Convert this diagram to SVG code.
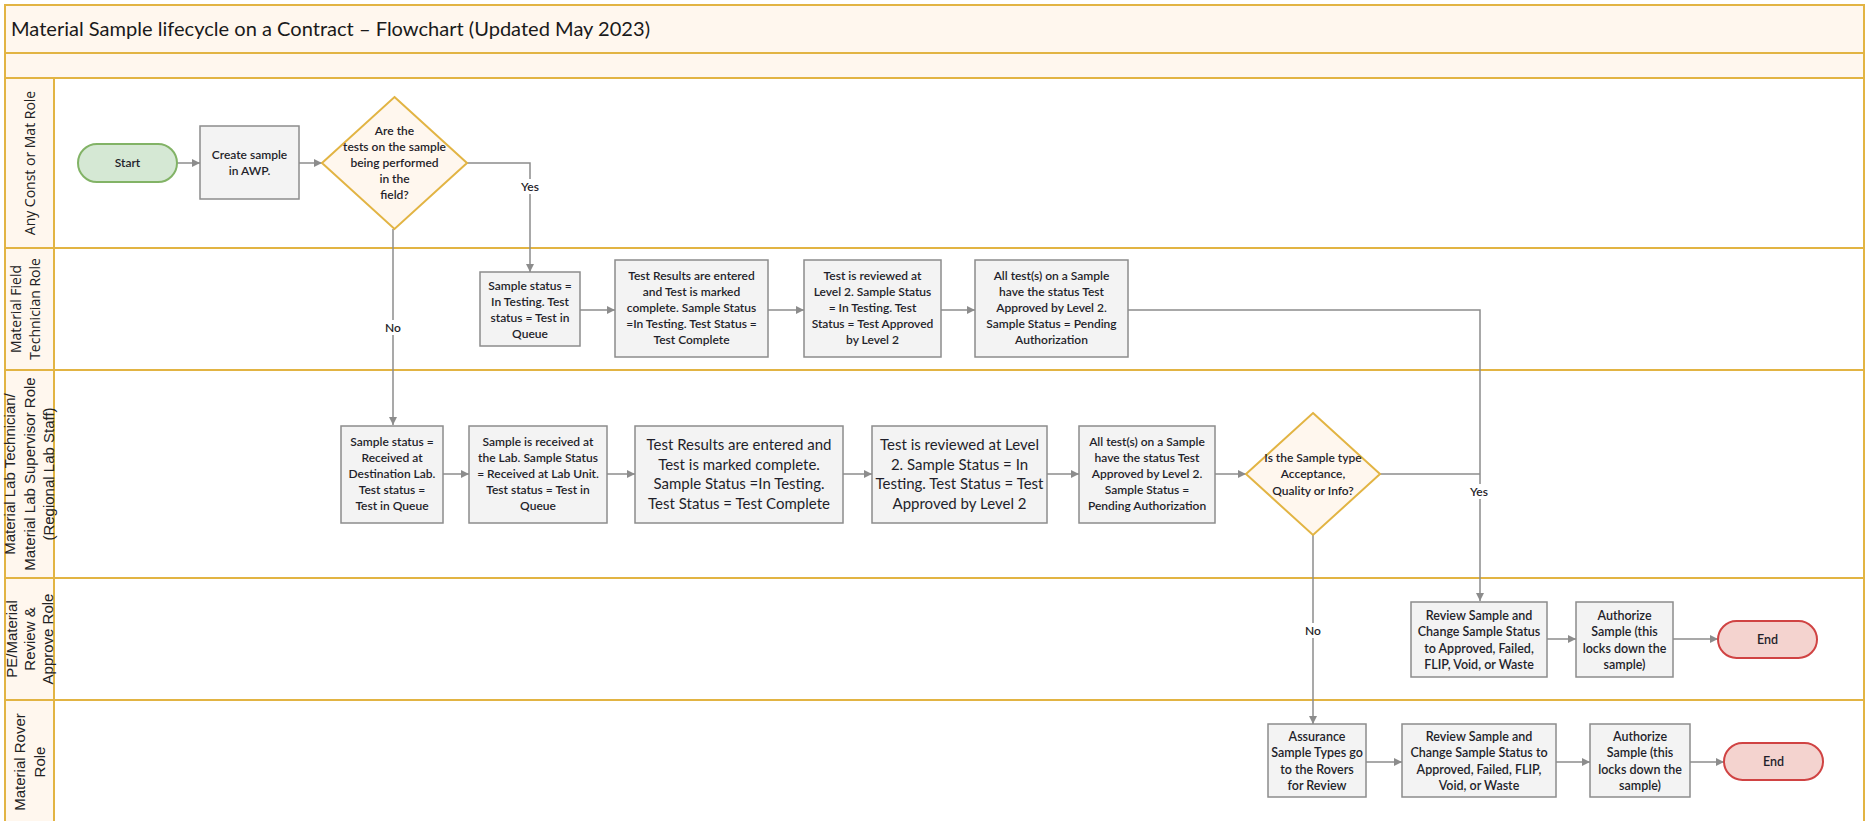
<svg xmlns="http://www.w3.org/2000/svg" width="1866" height="821" viewBox="0 0 1866 821">
<style>
.band{fill:#fff7ee;stroke:#e2b443;stroke-width:2}
.lane{fill:#ffffff;stroke:#e2b443;stroke-width:2}
.hdr{fill:#fff7ee;stroke:#e2b443;stroke-width:2}
.box{fill:#f3f3f3;stroke:#8c8c8c;stroke-width:1.5}
.dia{fill:#fff7ee;stroke:#e2b443;stroke-width:2}
.start{fill:#d5e8d4;stroke:#82b366;stroke-width:2}
.end{fill:#f4d3cf;stroke:#d04343;stroke-width:2}
.t{font-family:Lato,"Liberation Sans",sans-serif;font-size:12px;font-weight:600;fill:#1f1f2a;text-anchor:middle}
.tb{font-family:Lato,"Liberation Sans",sans-serif;font-size:15px;font-weight:400;fill:#1f1f2a;text-anchor:middle}
.tm{font-family:Lato,"Liberation Sans",sans-serif;font-size:12.5px;font-weight:600;fill:#1f1f2a;text-anchor:middle}
.lbl{font-family:Lato,"Liberation Sans",sans-serif;font-size:12px;font-weight:600;fill:#1f1f2a;text-anchor:middle}
.lo{font-family:"Open Sans","Noto Sans",sans-serif;font-size:14px;fill:#222;text-anchor:middle}
.la{font-family:"Liberation Sans",Arial,sans-serif;font-size:15px;fill:#222;text-anchor:middle}
.title{font-family:Lato,"Liberation Sans",sans-serif;font-size:20px;fill:#1a1a1a}
.c{fill:none;stroke:#8c8c8c;stroke-width:1.5}
</style>
<defs>
<marker id="arr" viewBox="0 0 10 10" refX="10" refY="5" markerWidth="9" markerHeight="8" markerUnits="userSpaceOnUse" orient="auto">
<path d="M0,0 L10,5 L0,10 z" fill="#8c8c8c"/>
</marker>
</defs>

<g id="frame">
<rect class="band" x="5" y="5" width="1859" height="48"/>
<rect class="band" x="5" y="53" width="1859" height="25"/>
<rect class="lane" x="5" y="78" width="1859" height="170"/>
<rect class="lane" x="5" y="248" width="1859" height="122"/>
<rect class="lane" x="5" y="370" width="1859" height="208"/>
<rect class="lane" x="5" y="578" width="1859" height="122"/>
<rect class="lane" x="5" y="700" width="1859" height="125"/>
<rect class="hdr" x="5" y="78" width="49" height="170"/>
<rect class="hdr" x="5" y="248" width="49" height="122"/>
<rect class="hdr" x="5" y="370" width="49" height="208"/>
<rect class="hdr" x="5" y="578" width="49" height="122"/>
<rect class="hdr" x="5" y="700" width="49" height="125"/>
<text class="title" x="11" y="36" textLength="639" lengthAdjust="spacingAndGlyphs">Material Sample lifecycle on a Contract – Flowchart (Updated May 2023)</text>
</g>

<g id="lane-labels">
<g id="lane1-label" transform="rotate(-90 30 163)"><text class="lo" x="30" y="168">Any Const or Mat Role</text></g>
<g id="lane2-label" transform="rotate(-90 30 309)">
<text class="lo" x="30" y="300">Material Field</text>
<text class="lo" x="30" y="319">Technician Role</text>
</g>
<g id="lane3-label" transform="rotate(-90 30 474)">
<text class="la" x="30" y="459">Material Lab Technician/</text>
<text class="la" x="30" y="478.5">Material Lab Supervisor Role</text>
<text class="la" x="30" y="498">(Regional Lab Staff)</text>
</g>
<g id="lane4-label" transform="rotate(-90 30 639)">
<text class="la" x="30" y="626">PE/Material</text>
<text class="la" x="30" y="644">Review &amp;</text>
<text class="la" x="30" y="662">Approve Role</text>
</g>
<g id="lane5-label" transform="rotate(-90 30 762)">
<text class="la" x="30" y="757">Material Rover</text>
<text class="la" x="30" y="777">Role</text>
</g>
</g>

<g id="connectors">
<path class="c" d="M177,163 H200" marker-end="url(#arr)"/>
<path class="c" d="M299,163 H322" marker-end="url(#arr)"/>
<path class="c" d="M467,163 H530 V272" marker-end="url(#arr)"/>
<path class="c" d="M393,229 V425" marker-end="url(#arr)"/>
<path class="c" d="M580,310 H615" marker-end="url(#arr)"/>
<path class="c" d="M768,310 H804" marker-end="url(#arr)"/>
<path class="c" d="M941,310 H975" marker-end="url(#arr)"/>
<path class="c" d="M1128,310 H1480 V601" marker-end="url(#arr)"/>
<path class="c" d="M443,474 H469" marker-end="url(#arr)"/>
<path class="c" d="M607,474 H635" marker-end="url(#arr)"/>
<path class="c" d="M843,474 H872" marker-end="url(#arr)"/>
<path class="c" d="M1047,474 H1079" marker-end="url(#arr)"/>
<path class="c" d="M1215,474 H1246" marker-end="url(#arr)"/>
<path class="c" d="M1380,474 H1480"/>
<path class="c" d="M1313,535 V724" marker-end="url(#arr)"/>
<path class="c" d="M1547,639 H1576" marker-end="url(#arr)"/>
<path class="c" d="M1673,639 H1718" marker-end="url(#arr)"/>
<path class="c" d="M1366,762 H1402" marker-end="url(#arr)"/>
<path class="c" d="M1556,762 H1590" marker-end="url(#arr)"/>
<path class="c" d="M1690,762 H1724" marker-end="url(#arr)"/>
<rect x="519" y="179" width="22" height="15" fill="#fff"/>
<text class="lbl" x="530" y="191">Yes</text>
<rect x="383" y="320" width="20" height="15" fill="#fff"/>
<text class="lbl" x="393" y="332">No</text>
<rect x="1467" y="484" width="24" height="15" fill="#fff"/>
<text class="lbl" x="1479" y="496">Yes</text>
<rect x="1303" y="623" width="20" height="15" fill="#fff"/>
<text class="lbl" x="1313" y="635">No</text>
</g>

<g id="start"><rect class="start" x="78" y="144" width="99" height="38" rx="19"/><text class="t" x="127.5" y="167">Start</text></g>
<g id="create"><rect class="box" x="200" y="126" width="99" height="73"/>
<text class="t" x="249.5" y="158.5">Create sample</text><text class="t" x="249.5" y="174.5">in AWP.</text></g>
<g id="decision-field"><polygon class="dia" points="394.5,97 467,163 394.5,229 322,163"/>
<text class="t" x="394.5" y="135">Are the</text>
<text class="t" x="394.5" y="151">tests on the sample</text>
<text class="t" x="394.5" y="167">being performed</text>
<text class="t" x="394.5" y="183">in the</text>
<text class="t" x="394.5" y="199">field?</text></g>

<g id="f1"><rect class="box" x="480" y="272" width="100" height="74"/>
<text class="t" x="530" y="289.5">Sample status =</text>
<text class="t" x="530" y="305.5">In Testing. Test</text>
<text class="t" x="530" y="321.5">status = Test in</text>
<text class="t" x="530" y="337.5">Queue</text></g>
<g id="f2"><rect class="box" x="615" y="260" width="153" height="97"/>
<text class="t" x="691.5" y="280">Test Results are entered</text>
<text class="t" x="691.5" y="296">and Test is marked</text>
<text class="t" x="691.5" y="312">complete.  Sample Status</text>
<text class="t" x="691.5" y="328">=In Testing. Test Status =</text>
<text class="t" x="691.5" y="344">Test Complete</text></g>
<g id="f3"><rect class="box" x="804" y="260" width="137" height="97"/>
<text class="t" x="872.5" y="280">Test is reviewed at</text>
<text class="t" x="872.5" y="296">Level 2. Sample Status</text>
<text class="t" x="872.5" y="312">= In Testing. Test</text>
<text class="t" x="872.5" y="328">Status = Test Approved</text>
<text class="t" x="872.5" y="344">by Level 2</text></g>
<g id="f4"><rect class="box" x="975" y="260" width="153" height="97"/>
<text class="t" x="1051.5" y="280">All test(s) on a Sample</text>
<text class="t" x="1051.5" y="296">have the status Test</text>
<text class="t" x="1051.5" y="312">Approved by Level 2.</text>
<text class="t" x="1051.5" y="328">Sample Status = Pending</text>
<text class="t" x="1051.5" y="344">Authorization</text></g>

<g id="l1"><rect class="box" x="341" y="426" width="102" height="97"/>
<text class="t" x="392" y="446">Sample status =</text>
<text class="t" x="392" y="462">Received at</text>
<text class="t" x="392" y="478">Destination Lab.</text>
<text class="t" x="392" y="494">Test status =</text>
<text class="t" x="392" y="510">Test in Queue</text></g>
<g id="l2"><rect class="box" x="469" y="426" width="138" height="97"/>
<text class="t" x="538" y="446">Sample is received at</text>
<text class="t" x="538" y="462">the Lab. Sample Status</text>
<text class="t" x="538" y="478">= Received at Lab Unit.</text>
<text class="t" x="538" y="494">Test status = Test in</text>
<text class="t" x="538" y="510">Queue</text></g>
<g id="l3"><rect class="box" x="635" y="426" width="208" height="97"/>
<text class="tb" x="739" y="450">Test Results are entered and</text>
<text class="tb" x="739" y="469.5">Test is marked complete.</text>
<text class="tb" x="739" y="489">Sample Status =In Testing.</text>
<text class="tb" x="739" y="508.5">Test Status = Test Complete</text></g>
<g id="l4"><rect class="box" x="872" y="426" width="175" height="97"/>
<text class="tb" x="959.5" y="450">Test is reviewed at Level</text>
<text class="tb" x="959.5" y="469.5">2. Sample Status = In</text>
<text class="tb" x="959.5" y="489">Testing. Test Status = Test</text>
<text class="tb" x="959.5" y="508.5">Approved by Level 2</text></g>
<g id="l5"><rect class="box" x="1079" y="426" width="136" height="97"/>
<text class="t" x="1147" y="446">All test(s) on a Sample</text>
<text class="t" x="1147" y="462">have the status Test</text>
<text class="t" x="1147" y="478">Approved by Level 2.</text>
<text class="t" x="1147" y="494">Sample Status =</text>
<text class="t" x="1147" y="510">Pending Authorization</text></g>
<g id="decision-type"><polygon class="dia" points="1313,413 1380,474 1313,535 1246,474"/>
<text class="t" x="1313" y="461.5">Is the Sample type</text>
<text class="t" x="1313" y="478">Acceptance,</text>
<text class="t" x="1313" y="494.5">Quality or Info?</text></g>

<g id="review-pe"><rect class="box" x="1411" y="602" width="136" height="75"/>
<text class="tm" x="1479" y="619.5">Review Sample and</text>
<text class="tm" x="1479" y="636">Change Sample Status</text>
<text class="tm" x="1479" y="652.5">to Approved, Failed,</text>
<text class="tm" x="1479" y="669">FLIP, Void, or Waste</text></g>
<g id="authorize-pe"><rect class="box" x="1576" y="602" width="97" height="75"/>
<text class="tm" x="1624.5" y="619.5">Authorize</text>
<text class="tm" x="1624.5" y="636">Sample (this</text>
<text class="tm" x="1624.5" y="652.5">locks down the</text>
<text class="tm" x="1624.5" y="669">sample)</text></g>
<g id="end-pe"><rect class="end" x="1718" y="621" width="99" height="37" rx="18.5"/><text class="tm" x="1767.5" y="644">End</text></g>

<g id="assurance"><rect class="box" x="1268" y="724" width="98" height="73"/>
<text class="tm" x="1317" y="740.5">Assurance</text>
<text class="tm" x="1317" y="757">Sample Types go</text>
<text class="tm" x="1317" y="773.5">to the Rovers</text>
<text class="tm" x="1317" y="790">for Review</text></g>
<g id="review-rover"><rect class="box" x="1402" y="724" width="154" height="73"/>
<text class="tm" x="1479" y="740.5">Review Sample and</text>
<text class="tm" x="1479" y="757">Change Sample Status to</text>
<text class="tm" x="1479" y="773.5">Approved, Failed, FLIP,</text>
<text class="tm" x="1479" y="790">Void, or Waste</text></g>
<g id="authorize-rover"><rect class="box" x="1590" y="724" width="100" height="73"/>
<text class="tm" x="1640" y="740.5">Authorize</text>
<text class="tm" x="1640" y="757">Sample (this</text>
<text class="tm" x="1640" y="773.5">locks down the</text>
<text class="tm" x="1640" y="790">sample)</text></g>
<g id="end-rover"><rect class="end" x="1724" y="743" width="99" height="37" rx="18.5"/><text class="tm" x="1773.5" y="766">End</text></g>
</svg>
